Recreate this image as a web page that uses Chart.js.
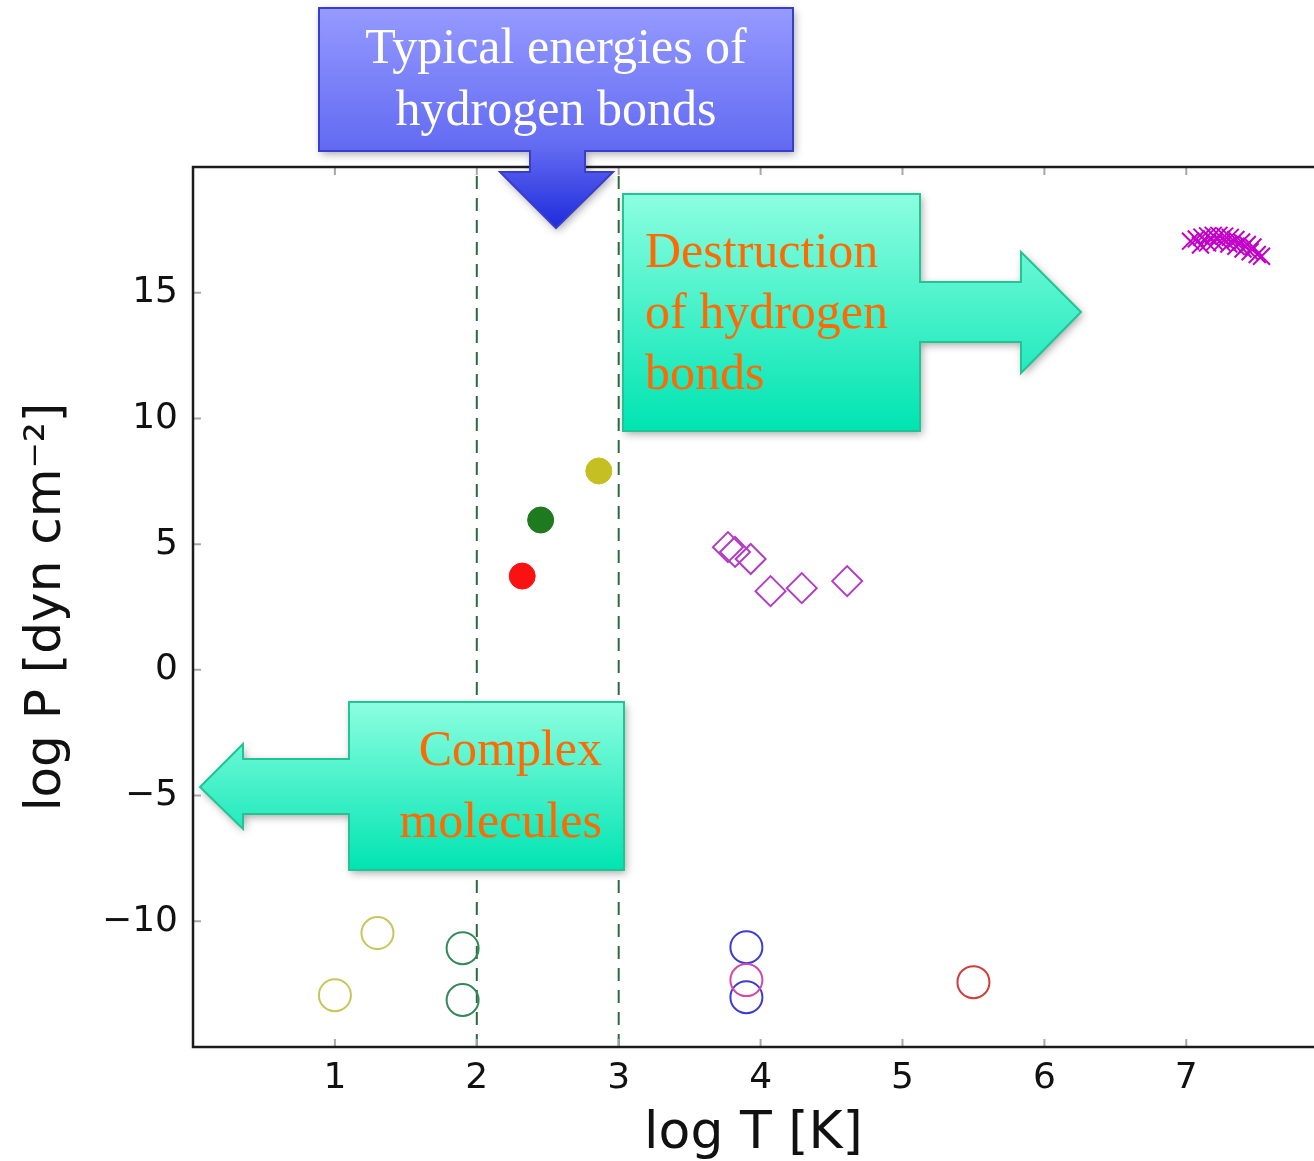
<!DOCTYPE html>
<html>
<head>
<meta charset="utf-8">
<script src="https://cdn.jsdelivr.net/npm/chart.js@4/dist/chart.umd.min.js"></script>
<style>
  html, body { margin: 0; padding: 0; background: #fff; }
  #wrap { width: 1314px; height: 1161px; }
</style>
</head>
<body>
<div id="wrap"><canvas id="phaseChart" width="1314" height="1161"></canvas></div>
<script>
// axis ranges and ticks
const tMin = 0, tMax = 7.9;
const pMin = -15, pMax = 20;
const xTicks = [1, 2, 3, 4, 5, 6, 7];
const yTicks = [-10, -5, 0, 5, 10, 15];
const hbondLimits = [2, 3];

// magenta crosses (hot gas)
const crossT = [7.03, 7.07, 7.11, 7.15, 7.19, 7.23, 7.27, 7.31, 7.35, 7.39, 7.43, 7.47,
                7.10, 7.15, 7.20, 7.25, 7.30, 7.35, 7.40, 7.45, 7.50, 7.53];
const crossP = [17.05, 17.14, 17.21, 17.26, 17.28, 17.28, 17.25, 17.2, 17.12, 17.02, 16.92, 16.82,
                16.9, 16.98, 17.02, 17.0, 16.94, 16.85, 16.74, 16.63, 16.52, 16.45];

// open diamonds
const diamondT = [3.77, 3.82, 3.93, 4.07, 4.29, 4.61];
const diamondP = [4.88, 4.69, 4.41, 3.13, 3.25, 3.53];

// filled circles
const redDotT = [2.32], redDotP = [3.73];
const greenDotT = [2.45], greenDotP = [5.96];
const yellowDotT = [2.86], yellowDotP = [7.91];

// open circles
const yellowRingT = [1.00, 1.30], yellowRingP = [-12.94, -10.47];
const greenRingT = [1.90, 1.90], greenRingP = [-11.07, -13.13];
const blueRingT = [3.90, 3.90], blueRingP = [-11.03, -13.02];
const pinkRingT = [3.90], pinkRingP = [-12.34];
const redRingT = [5.50], redRingP = [-12.42];

const pts = (t, p) => t.map((v, i) => ({ x: v, y: p[i] }));
const fmt = v => (v < 0 ? '\u2212' + Math.abs(v) : String(v));

const ring = (label, t, p, color) => ({
  label, data: pts(t, p), pointStyle: 'circle', pointRadius: 16,
  pointBorderColor: color, pointBackgroundColor: 'rgba(0,0,0,0)', pointBorderWidth: 2
});
const dot = (label, t, p, color) => ({
  label, data: pts(t, p), pointStyle: 'circle', pointRadius: 13,
  pointBorderColor: color, pointBackgroundColor: color, pointBorderWidth: 1
});
const vline = (t) => ({
  type: 'line', label: 'limit ' + t, data: [{ x: t, y: pMin }, { x: t, y: pMax }],
  borderColor: '#2b6a3e', borderWidth: 2, borderDash: [13, 9], pointRadius: 0, fill: false
});

// frame + inward ticks, matplotlib style
const framePlugin = {
  id: 'frame',
  afterDatasetsDraw(chart) {
    const { ctx, chartArea: a, scales: { x, y } } = chart;
    ctx.save();
    ctx.strokeStyle = '#a8a8a8';
    ctx.lineWidth = 2;
    ctx.beginPath();
    xTicks.forEach(v => {
      const px = x.getPixelForValue(v);
      ctx.moveTo(px, a.bottom); ctx.lineTo(px, a.bottom - 8);
      ctx.moveTo(px, a.top); ctx.lineTo(px, a.top + 8);
    });
    yTicks.forEach(v => {
      const py = y.getPixelForValue(v);
      ctx.moveTo(a.left, py); ctx.lineTo(a.left + 8, py);
    });
    ctx.stroke();
    ctx.strokeStyle = '#1c1c1c';
    ctx.lineWidth = 2.5;
    ctx.beginPath();
    ctx.moveTo(a.right + 5, a.top);
    ctx.lineTo(a.left, a.top);
    ctx.lineTo(a.left, a.bottom);
    ctx.lineTo(a.right + 5, a.bottom);
    ctx.stroke();
    ctx.restore();
  }
};

// callout shapes (pixel positions on the slide)
const callouts = [
  {
    shape: [[319, 8], [793, 8], [793, 151], [585, 151], [585, 172], [613, 172], [556, 228],
            [500, 172], [530, 172], [530, 151], [319, 151]],
    top: 8, bottom: 228,
    stops: [[0, '#959aff'], [0.62, '#646cf2'], [1, '#1e2bdb']],
    border: '#3a3dcc',
    lines: ['Typical energies of', 'hydrogen bonds'], color: '#ffffff',
    align: 'center', tx: 556, ty: [63, 125]
  },
  {
    shape: [[623, 194], [920, 194], [920, 282], [1021, 282], [1021, 252], [1081, 312],
            [1021, 373], [1021, 342], [920, 342], [920, 431], [623, 431]],
    top: 194, bottom: 431,
    stops: [[0, '#8cfee0'], [1, '#00e4b2']],
    border: '#22c494',
    lines: ['Destruction', 'of hydrogen', 'bonds'], color: '#ff6a00',
    align: 'left', tx: 645, ty: [267, 328, 389]
  },
  {
    shape: [[349, 702], [624, 702], [624, 870], [349, 870], [349, 814], [243, 814], [243, 829],
            [200, 787], [243, 744], [243, 759], [349, 759]],
    top: 702, bottom: 870,
    stops: [[0, '#8cfee0'], [1, '#00e4b2']],
    border: '#22c494',
    lines: ['Complex', 'molecules'], color: '#ff6a00',
    align: 'right', tx: 602, ty: [765, 837]
  }
];

const calloutPlugin = {
  id: 'callouts',
  afterDraw(chart) {
    const ctx = chart.ctx;
    callouts.forEach(c => {
      ctx.save();
      const g = ctx.createLinearGradient(0, c.top, 0, c.bottom);
      c.stops.forEach(([o, col]) => g.addColorStop(o, col));
      ctx.beginPath();
      c.shape.forEach(([px, py], i) => (i ? ctx.lineTo(px, py) : ctx.moveTo(px, py)));
      ctx.closePath();
      ctx.shadowColor = 'rgba(0,0,0,0.35)';
      ctx.shadowBlur = 8;
      ctx.shadowOffsetX = 2;
      ctx.shadowOffsetY = 3;
      ctx.fillStyle = g;
      ctx.fill();
      ctx.shadowColor = 'rgba(0,0,0,0)';
      ctx.strokeStyle = c.border;
      ctx.lineWidth = 2;
      ctx.stroke();
      ctx.fillStyle = c.color;
      ctx.font = '50px "Liberation Serif", "Times New Roman", serif';
      ctx.textAlign = c.align;
      ctx.textBaseline = 'alphabetic';
      c.lines.forEach((s, i) => ctx.fillText(s, c.tx, c.ty[i]));
      ctx.restore();
    });
  }
};

const ctx = document.getElementById('phaseChart').getContext('2d');
new Chart(ctx, {
  type: 'scatter',
  data: {
    datasets: [
      {
        label: 'hot gas', data: pts(crossT, crossP), pointStyle: 'crossRot', pointRadius: 12,
        pointBorderColor: '#c200c8', pointBorderWidth: 2
      },
      {
        label: 'diamonds', data: pts(diamondT, diamondP), pointStyle: 'rectRot', pointRadius: 15,
        pointBorderColor: '#b23cc4', pointBackgroundColor: 'rgba(0,0,0,0)', pointBorderWidth: 2
      },
      dot('red dot', redDotT, redDotP, '#fa1212'),
      dot('green dot', greenDotT, greenDotP, '#1d7a1f'),
      dot('yellow dot', yellowDotT, yellowDotP, '#c6bf22'),
      ring('yellow ring', yellowRingT, yellowRingP, '#c8c65a'),
      ring('green ring', greenRingT, greenRingP, '#34885a'),
      ring('pink ring', pinkRingT, pinkRingP, '#d24aa8'),
      ring('blue ring', blueRingT, blueRingP, '#3c3cd2'),
      ring('red ring', redRingT, redRingP, '#d23c3c'),
      vline(hbondLimits[0]),
      vline(hbondLimits[1])
    ]
  },
  options: {
    responsive: false,
    animation: false,
    layout: { autoPadding: false, padding: { top: 167, left: 0, right: 0, bottom: 0 } },
    plugins: {
      legend: { display: false },
      tooltip: { enabled: false }
    },
    scales: {
      x: {
        type: 'linear',
        min: tMin,
        max: tMax,
        afterBuildTicks: s => { s.ticks = xTicks.map(v => ({ value: v })); },
        afterFit: s => { s.height = 114; s.paddingLeft = 0; s.paddingRight = 0; },
        grid: { display: false, drawTicks: false },
        border: { display: false },
        ticks: {
          callback: fmt,
          color: '#111',
          padding: 10,
          maxRotation: 0,
          font: { family: '"DejaVu Sans"', size: 36 }
        },
        title: {
          display: true,
          text: 'log T [K]',
          color: '#111',
          padding: { top: 0, bottom: 1 },
          font: { family: '"DejaVu Sans"', size: 52, lineHeight: 1 }
        }
      },
      y: {
        type: 'linear',
        min: pMin,
        max: pMax,
        afterBuildTicks: s => { s.ticks = yTicks.map(v => ({ value: v })); },
        afterFit: s => { s.width = 193; s.paddingTop = 0; s.paddingBottom = 0; },
        grid: { display: false, drawTicks: false },
        border: { display: false },
        ticks: {
          callback: fmt,
          color: '#111',
          padding: 15,
          font: { family: '"DejaVu Sans"', size: 36 }
        },
        title: {
          display: true,
          text: 'log P [dyn cm\u207B\u00B2]',
          color: '#111',
          padding: { top: 22, bottom: 0 },
          font: { family: '"DejaVu Sans"', size: 50, lineHeight: 1 }
        }
      }
    }
  },
  plugins: [framePlugin, calloutPlugin]
});
</script>
</body>
</html>
